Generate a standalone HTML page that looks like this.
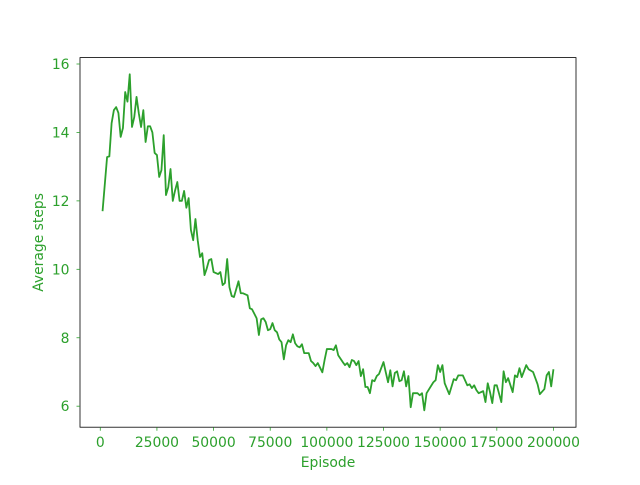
<!DOCTYPE html>
<html><head><meta charset="utf-8"><style>
html,body{margin:0;padding:0;background:#fff;}
svg text{font-family:"DejaVu Sans","Liberation Sans",sans-serif;font-size:13.9px;fill:#2ca02c;}
</style></head><body>
<svg id="chart" width="640" height="480" xmlns="http://www.w3.org/2000/svg"></svg>
<script>
const episodes=[1000,3000,4000,5000,6000,7000,8000,9000,10000,11000,12000,13000,14000,15000,16000,17000,18000,19000,20000,21000,22000,23000,24000,25000,26000,27000,28000,29000,30000,31000,32000,33000,34000,35000,36000,37000,38000,39000,40000,41000,42000,43000,44000,45000,46000,47000,48000,49000,50000,51000,52000,53000,54000,55000,56000,57000,58000,59000,61000,62000,63000,65000,66000,67000,69000,70000,71000,72000,73000,74000,75000,76000,77000,78000,79000,80000,81000,82000,83000,84000,85000,86000,87000,88000,89000,90000,92000,93000,94000,95000,96000,98000,99000,100000,102000,103000,104000,105000,107000,108000,109000,110000,111000,112000,113000,114000,115000,116000,117000,118000,119000,120000,121000,122000,123000,125000,126000,127000,128000,129000,130000,131000,132000,133000,134000,135000,136000,137000,138000,140000,141000,142000,143000,144000,147000,148000,149000,150000,151000,152000,154000,156000,157000,158000,160000,162000,163000,164000,165000,166000,167000,169000,170000,171000,172000,173000,174000,175000,177000,178000,179000,180000,182000,183000,184000,185000,186000,188000,189000,191000,193000,194000,196000,197000,198000,199000,200000];
const avgSteps=[11.7,13.28,13.3,14.27,14.65,14.74,14.57,13.87,14.13,15.18,14.9,15.7,14.16,14.45,15.04,14.56,14.16,14.65,13.72,14.18,14.18,14.0,13.4,13.34,12.7,12.9,13.92,12.17,12.4,12.93,12.0,12.3,12.55,12.0,12.0,12.29,11.8,12.08,11.15,10.85,11.47,10.85,10.36,10.47,9.83,10.03,10.27,10.3,9.92,9.89,9.86,9.92,9.54,9.6,10.3,9.48,9.22,9.19,9.65,9.3,9.3,9.24,8.86,8.83,8.57,8.08,8.54,8.57,8.46,8.22,8.25,8.43,8.22,8.16,7.95,7.87,7.37,7.78,7.93,7.87,8.1,7.84,7.75,7.72,7.81,7.55,7.55,7.32,7.26,7.17,7.26,6.99,7.35,7.67,7.67,7.64,7.78,7.49,7.29,7.2,7.26,7.14,7.35,7.32,7.2,7.32,6.88,7.08,6.56,6.56,6.38,6.76,6.73,6.88,6.94,7.29,6.99,6.7,7.05,6.58,6.97,7.02,6.73,6.76,7.02,6.58,6.88,5.97,6.38,6.38,6.32,6.38,5.88,6.38,6.7,6.76,7.2,7.0,7.2,6.67,6.35,6.79,6.76,6.9,6.9,6.61,6.64,6.53,6.61,6.47,6.38,6.44,6.12,6.67,6.41,6.09,6.61,6.61,6.12,7.02,6.7,6.82,6.41,6.9,6.85,7.11,6.85,7.2,7.08,7.0,6.64,6.35,6.5,6.9,7.0,6.58,7.08];
const xTicks=[0,25000,50000,75000,100000,125000,150000,175000,200000];
const yTicks=[6,8,10,12,14,16];

const svg=document.getElementById('chart');
const NS='http://www.w3.org/2000/svg';
const L=80,R=576,T=57.6,B=427.2;
const xMin=-8950,xMax=209950,yMin=5.386,yMax=16.187;
function xs(v){return L+(v-xMin)/(xMax-xMin)*(R-L);}
function ys(v){return B-(v-yMin)/(yMax-yMin)*(B-T);}
function mk(tag,attrs){const e=document.createElementNS(NS,tag);for(const k in attrs)e.setAttribute(k,attrs[k]);svg.appendChild(e);return e;}

let d='';
episodes.forEach((e,i)=>{d+=(i?'L':'M')+xs(e).toFixed(2)+' '+ys(avgSteps[i]).toFixed(2);});
const line=mk('path',{d:d,fill:'none',stroke:'#2ca02c','stroke-width':1.8,'stroke-linejoin':'round'});



const frame=mk('rect',{x:L,y:T,width:R-L,height:B-T,fill:'none',stroke:'#000','stroke-width':0.8});



xTicks.forEach(t=>{
  const x=xs(t);
  const tk=mk('line',{x1:x,x2:x,y1:B,y2:B+3.5,stroke:'#2ca02c','stroke-width':0.8});
  
  
  const tx=mk('text',{x:x,y:447,'text-anchor':'middle'});
  tx.textContent=t;
  
  
});
yTicks.forEach(t=>{
  const y=ys(t);
  const tk=mk('line',{x1:L-3.5,x2:L,y1:y,y2:y,stroke:'#2ca02c','stroke-width':0.8});
  
  
  const tx=mk('text',{x:L-10.5,y:y+5,'text-anchor':'end'});
  tx.textContent=t;
  
  
});
const xt=mk('text',{x:(L+R)/2,y:467,'text-anchor':'middle'});
xt.textContent='Episode';


const yt=mk('text',{x:43,y:(T+B)/2,'text-anchor':'middle',transform:'rotate(-90 43 '+((T+B)/2)+')'});
yt.textContent='Average steps';


</script>
</body></html>
